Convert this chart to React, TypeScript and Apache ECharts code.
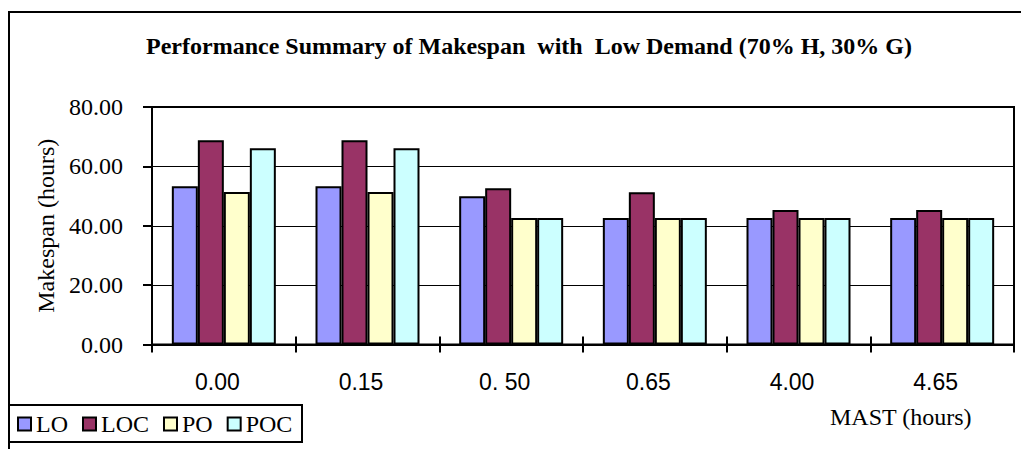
import React, { useEffect, useRef } from "react";
import * as echarts from "echarts";

const categories = ["0.00", "0.15", "0. 50", "0.65", "4.00", "4.65"];
const seriesNames = ["LO", "LOC", "PO", "POC"];
const loValues = [53.3, 53.3, 49.9, 42.6, 42.6, 42.6];
const locValues = [68.8, 68.8, 52.6, 51.3, 45.3, 45.3];
const poValues = [51.4, 51.4, 42.6, 42.6, 42.6, 42.6];
const pocValues = [66.1, 66.1, 42.6, 42.6, 42.6, 42.6];
const seriesColors = ["#9999FF", "#993366", "#FFFFCC", "#CCFFFF"];
const yTicks = [0, 20, 40, 60, 80];

const SERIF = "'Liberation Serif', 'Times New Roman', serif";
const SANS = "'Liberation Sans', Arial, sans-serif";

export default function App() {
  const ref = useRef<HTMLDivElement>(null);
  useEffect(() => {
    document.body.style.margin = "0";
    if (!ref.current) return;
    const chart = echarts.init(ref.current, undefined, { renderer: "svg" });
    const values = [loValues, locValues, poValues, pocValues];
    chart.setOption({
      animation: false,
      backgroundColor: "#fff",
      title: {
        text: "Performance Summary of Makespan  with  Low Demand (70% H, 30% G)",
        left: 524,
        top: 29,
        textAlign: "center",
        textStyle: { fontFamily: SERIF, fontWeight: "bold", fontSize: 24, color: "#000" },
      },
      grid: {
        left: 152,
        top: 107,
        right: 7,
        bottom: 104.5,
        show: true,
        borderColor: "#000",
        borderWidth: 2,
        backgroundColor: "transparent",
      },
      legend: {
        data: seriesNames,
        left: 17,
        top: 412,
        padding: 0,
        icon: "rect",
        itemWidth: 13,
        itemHeight: 13,
        itemGap: 14,
        textStyle: { fontFamily: SERIF, fontSize: 24, color: "#000" },
      },
      xAxis: [
        {
          type: "category",
          data: categories,
          position: "bottom",
          axisLine: { show: true, lineStyle: { color: "#000", width: 2 } },
          axisTick: { show: true, length: 8, lineStyle: { color: "#000", width: 2 } },
          axisLabel: {
            fontFamily: SANS,
            fontSize: 23,
            color: "#000",
            margin: 26,
            padding: [0, 13, 0, 0],
          },
          splitLine: { show: false },
        },
        {
          type: "category",
          data: categories,
          position: "bottom",
          axisLine: { show: false },
          axisTick: { show: true, inside: true, length: 8, lineStyle: { color: "#000", width: 2 } },
          axisLabel: { show: false },
          splitLine: { show: false },
        },
      ],
      yAxis: {
        type: "value",
        min: yTicks[0],
        max: yTicks[yTicks.length - 1],
        interval: 20,
        name: "Makespan (hours)",
        nameLocation: "middle",
        nameGap: 84,
        nameTextStyle: { fontFamily: SERIF, fontSize: 24, color: "#000" },
        axisLine: { show: true, lineStyle: { color: "#000", width: 2 } },
        axisTick: { show: true, length: 9, lineStyle: { color: "#000", width: 2 } },
        axisLabel: {
          fontFamily: SERIF,
          fontSize: 24,
          color: "#000",
          margin: 29,
          padding: [8, 0, 0, 0],
          formatter: (v: number) => v.toFixed(2),
        },
        splitLine: { show: true, lineStyle: { color: "#000", width: 1 } },
      },
      graphic: [
        {
          type: "rect",
          shape: { x: 9, y: 12, width: 1100, height: 600 },
          style: { fill: "none", stroke: "#000", lineWidth: 2 },
          silent: true,
          z: -10,
        },
        {
          type: "rect",
          shape: { x: 9, y: 405, width: 293, height: 37 },
          style: { fill: "#fff", stroke: "#000", lineWidth: 2 },
          silent: true,
          z: 0,
        },
        {
          type: "text",
          left: 830,
          top: 405,
          style: { text: "MAST (hours)", fontFamily: SERIF, fontSize: 24, fill: "#000" },
          silent: true,
        },
      ],
      series: seriesNames.map((name, i) => ({
        name,
        type: "bar",
        xAxisIndex: 0,
        data: values[i],
        barWidth: 26,
        barGap: "0%",
        itemStyle: { color: seriesColors[i], borderColor: "#000", borderWidth: 2 },
      })),
    });
    return () => chart.dispose();
  }, []);
  return <div ref={ref} style={{ width: 1021, height: 449 }} />;
}
